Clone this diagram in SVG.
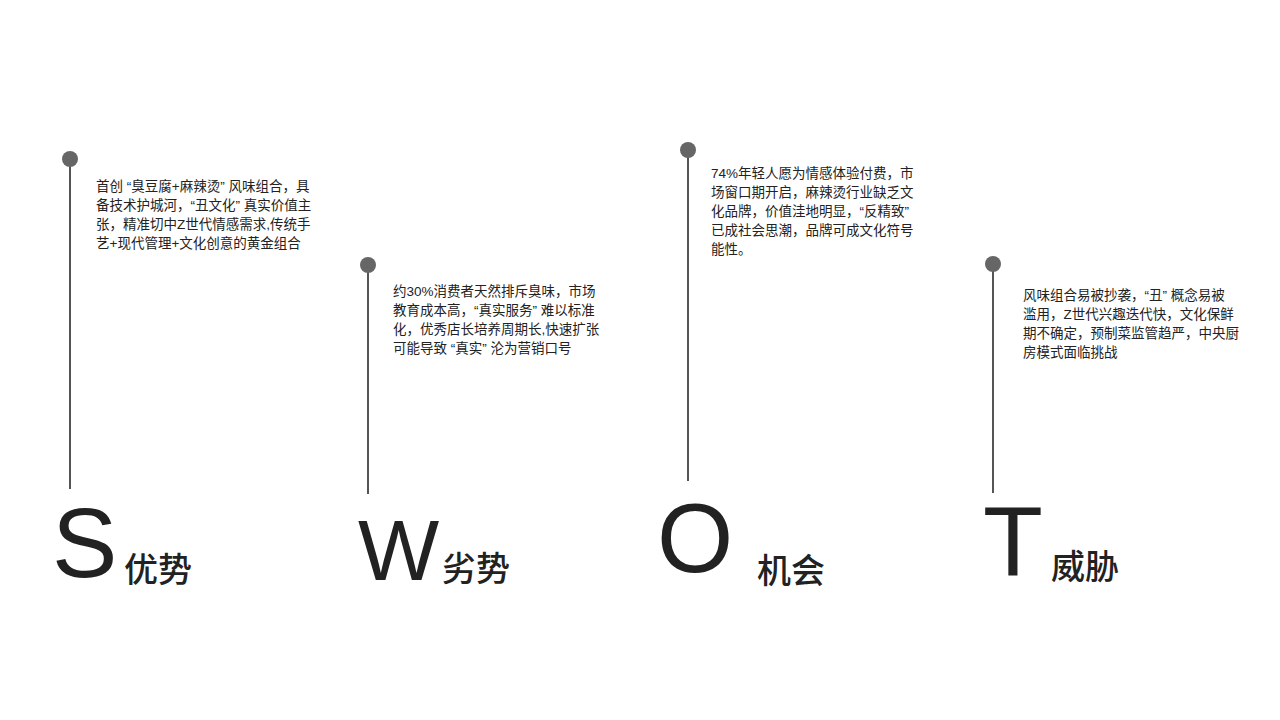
<svg xmlns="http://www.w3.org/2000/svg" width="1280" height="720" viewBox="0 0 1280 720">
<style>
.d{fill:#666}
.l{stroke:#555;stroke-width:2}
.t{font-family:"Liberation Sans","Noto Sans CJK SC",sans-serif;font-size:13.5px;fill:#222}
.b{font-family:"Liberation Sans","Noto Sans CJK SC",sans-serif;font-size:98px;fill:#222}
.c{font-family:"Noto Sans CJK SC",sans-serif;font-size:34px;fill:#222;font-weight:500}
</style>
<rect width="1280" height="720" fill="#fff"/>
<g id="connectors">
<line class="l" x1="70" y1="160" x2="70" y2="489"/>
<line class="l" x1="368" y1="266" x2="368" y2="494"/>
<line class="l" x1="688" y1="151" x2="688" y2="481"/>
<line class="l" x1="993" y1="265" x2="993" y2="493"/>
</g>
<g id="S">
<circle class="d" cx="70" cy="159" r="8"/>
<text class="t" x="96" y="191">首创 “臭豆腐+麻辣烫” 风味组合，具</text>
<text class="t" x="96" y="210">备技术护城河，“丑文化” 真实价值主</text>
<text class="t" x="96" y="229">张，精准切中Z世代情感需求,传统手</text>
<text class="t" x="96" y="248">艺+现代管理+文化创意的黄金组合</text>
<text class="b" x="52" y="577">S</text>
<text class="c" x="124" y="582">优势</text>
</g>
<g id="W">
<circle class="d" cx="368" cy="265" r="8"/>
<text class="t" x="393" y="296">约30%消费者天然排斥臭味，市场</text>
<text class="t" x="393" y="315">教育成本高，“真实服务” 难以标准</text>
<text class="t" x="393" y="334">化，优秀店长培养周期长,快速扩张</text>
<text class="t" x="393" y="353">可能导致 “真实” 沦为营销口号</text>
<text class="b" x="358" y="580" style="font-size:86px">W</text>
<text class="c" x="442" y="581">劣势</text>
</g>
<g id="O">
<circle class="d" cx="688" cy="150" r="8"/>
<text class="t" x="711" y="178">74%年轻人愿为情感体验付费，市</text>
<text class="t" x="711" y="197">场窗口期开启，麻辣烫行业缺乏文</text>
<text class="t" x="711" y="216">化品牌，价值洼地明显，“反精致”</text>
<text class="t" x="711" y="235">已成社会思潮，品牌可成文化符号</text>
<text class="t" x="711" y="254">能性。</text>
<text class="b" x="657" y="572">O</text>
<text class="c" x="757" y="583">机会</text>
</g>
<g id="T">
<circle class="d" cx="993" cy="264" r="8"/>
<text class="t" x="1023" y="300">风味组合易被抄袭，“丑” 概念易被</text>
<text class="t" x="1023" y="319">滥用，Z世代兴趣迭代快，文化保鲜</text>
<text class="t" x="1023" y="338">期不确定，预制菜监管趋严，中央厨</text>
<text class="t" x="1023" y="357">房模式面临挑战</text>
<text class="b" x="983" y="575">T</text>
<text class="c" x="1051" y="579">威胁</text>
</g>
</svg>
